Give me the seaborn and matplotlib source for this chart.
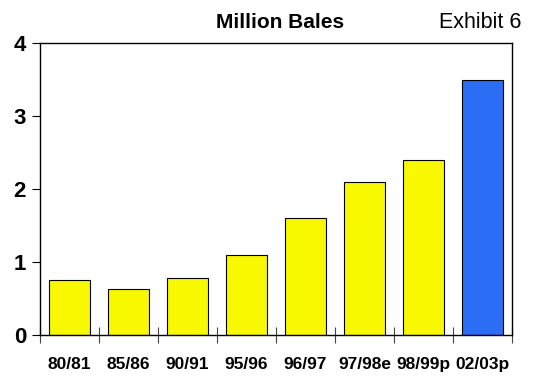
import matplotlib
matplotlib.use("Agg")
import matplotlib.pyplot as plt
from matplotlib import font_manager
import seaborn as sns
import pandas as pd
import numpy as np

seasons = ["80/81", "85/86", "90/91", "95/96", "96/97", "97/98e", "98/99p", "02/03p"]
bales = [0.75, 0.63, 0.78, 1.10, 1.60, 2.10, 2.40, 3.50]
bar_colors = ["#f8f800"] * 7 + ["#2b6ef5"]
y_ticks = [0, 1, 2, 3, 4]

sns.set_theme(style="white")
names = {f.name for f in font_manager.fontManager.ttflist}
narrow = "Liberation Sans Narrow" if "Liberation Sans Narrow" in names else "Liberation Sans"
plt.rcParams["font.family"] = ["Liberation Sans", "DejaVu Sans"]
plt.rcParams["text.color"] = "black"
plt.rcParams["xtick.color"] = "black"
plt.rcParams["ytick.color"] = "black"
plt.rcParams["axes.labelcolor"] = "black"

df = pd.DataFrame({"season": seasons, "bales": bales})

fig = plt.figure(figsize=(5.35, 3.77), dpi=100)
ax = fig.add_axes([40 / 535, 42 / 377, 472 / 535, 292 / 377])

sns.barplot(data=df, x="season", y="bales", hue="season", palette=bar_colors,
            legend=False, width=0.68, edgecolor="black", linewidth=0.8,
            saturation=1, ax=ax)

ax.set_xlim(-0.5, len(seasons) - 0.5)
ax.set_ylim(0, 4)
ax.set_yticks(y_ticks)
ax.set_yticklabels([str(t) for t in y_ticks], fontsize=16, fontweight="bold")
ax.set_xticks(range(len(seasons)))
ax.set_xticklabels(seasons, fontsize=12.5, fontweight="bold", family=narrow)
ax.set_xticks(np.arange(-0.5, len(seasons)), minor=True)
ax.tick_params(axis="x", which="major", length=0, pad=16, bottom=True)
ax.tick_params(axis="x", which="minor", length=12, width=0.8, direction="inout",
               color="#444444", bottom=True)
ax.tick_params(axis="y", which="major", length=6, width=0.8, direction="out",
               color="black", pad=4, left=True)
ax.set_xlabel("")
ax.set_ylabel("")
for s in ax.spines.values():
    s.set_visible(True)
    s.set_color("black")
    s.set_linewidth(1.0)
ax.grid(False)

fig.text(280 / 535, 1 - 22 / 377, "Million Bales", ha="center", va="center",
         fontsize=15, fontweight="bold", family=narrow)
fig.text(521 / 535, 1 - 22 / 377, "Exhibit 6", ha="right", va="center", fontsize=15.5)

fig.savefig("out.png", dpi=100)
